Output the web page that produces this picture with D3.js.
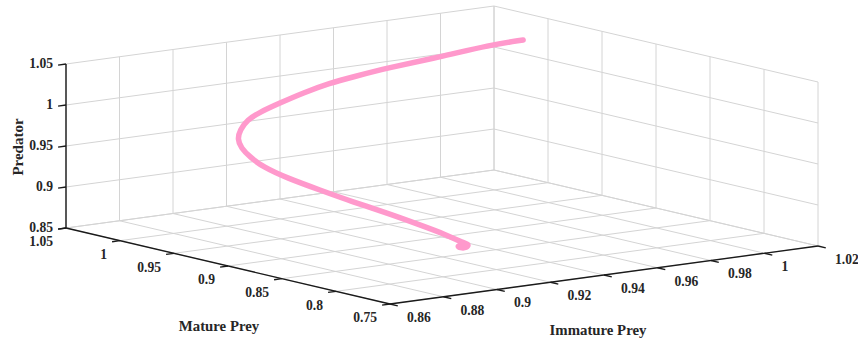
<!DOCTYPE html>
<html><head><meta charset="utf-8">
<script src="https://cdn.jsdelivr.net/npm/d3@7"></script>
<style>
body{margin:0;background:#fff}
svg{display:block}
text{font-family:"Liberation Serif","Times New Roman",serif;font-weight:bold;fill:#262626}
</style>
</head><body>
<svg id="c" width="858" height="344"></svg>
<script>
// ---- data ----
const matureTicks = [1.05, 1, 0.95, 0.9, 0.85, 0.8, 0.75];
const immatureTicks = [0.86, 0.88, 0.9, 0.92, 0.94, 0.96, 0.98, 1, 1.02];
const predatorTicks = [0.85, 0.9, 0.95, 1, 1.05];
const mature   = [1.0000,0.9893,0.9730,0.9557,0.9445,0.9369,0.9277,0.9197,0.9127,0.9078,0.9039,0.9007,0.8976,0.8935,0.8883,0.8799,0.8687,0.8575,0.8461,0.8349,0.8257,0.8200,0.8180,0.8180,0.8180,0.8180,0.8180];
const immature = [1.0107,0.9940,0.9687,0.9419,0.9247,0.9130,0.8992,0.8874,0.8771,0.8703,0.8661,0.8638,0.8639,0.8656,0.8684,0.8739,0.8817,0.8896,0.8977,0.9055,0.9119,0.9156,0.9170,0.9162,0.9136,0.9125,0.9144];
const predator = [1.0281,1.0327,1.0343,1.0380,1.0382,1.0383,1.0351,1.0306,1.0263,1.0211,1.0120,1.0030,0.9929,0.9824,0.9706,0.9574,0.9427,0.9281,0.9146,0.9000,0.8878,0.8782,0.8770,0.8724,0.8736,0.8765,0.8769];

// ---- projection (oblique 3D view built from linear scales) ----
const sM = d3.scaleLinear().domain([1.05, 0.75]).range([0, 1]);
const sI = d3.scaleLinear().domain([0.86, 1.02]).range([0, 1]);
const sZ = d3.scaleLinear().domain([0.85, 1.05]).range([0, 1]);
const O = [66, 228], VM = [324, 76], VI = [428, -58], VZ = [0, -164];
function P(m, i, z) {
  const a = sM(m), b = sI(i), c = sZ(z);
  return [O[0] + a*VM[0] + b*VI[0] + c*VZ[0], O[1] + a*VM[1] + b*VI[1] + c*VZ[1]];
}
const [m0, m1] = sM.domain(), [i0, i1] = sI.domain(), [z0, z1] = sZ.domain();

const svg = d3.select("#c");
const grid = svg.append("g").attr("stroke", "#d4d4d4").attr("stroke-width", 1).attr("fill", "none");
function seg(g, p, q) { g.append("line").attr("x1", p[0]).attr("y1", p[1]).attr("x2", q[0]).attr("y2", q[1]); }

immatureTicks.forEach(i => { seg(grid, P(m0, i, z0), P(m0, i, z1)); seg(grid, P(m0, i, z0), P(m1, i, z0)); });
matureTicks.forEach(m => { seg(grid, P(m, i1, z0), P(m, i1, z1)); seg(grid, P(m, i0, z0), P(m, i1, z0)); });
predatorTicks.forEach(z => { seg(grid, P(m0, i0, z), P(m0, i1, z)); seg(grid, P(m0, i1, z), P(m1, i1, z)); });

// axes
const ax = svg.append("g").attr("stroke", "#1a1a1a").attr("stroke-width", 1.4).attr("fill", "none");
seg(ax, P(m0, i0, z0), P(m0, i0, z1));
seg(ax, P(m0, i0, z0), P(m1, i0, z0));
seg(ax, P(m1, i0, z0), P(m1, i1, z0));

const dI = [-0.991, 0.134], dM = [0.973, 0.228], TL = 8;
const fmt = d => String(+d.toFixed(2));
const FS = 13.6;
predatorTicks.forEach(z => {
  const p = P(m0, i0, z);
  seg(ax, p, [p[0] + TL*dI[0], p[1] + TL*dI[1]]);
  svg.append("text").attr("x", p[0] - 13).attr("y", p[1] - 0.5).attr("dy", "0.35em")
    .attr("text-anchor", "end").attr("font-size", FS).text(fmt(z));
});
matureTicks.forEach(m => {
  const p = P(m, i0, z0);
  seg(ax, p, [p[0] + TL*dI[0], p[1] + TL*dI[1]]);
  svg.append("text").attr("x", p[0] - 13).attr("y", p[1] + 13.5).attr("dy", "0.35em")
    .attr("text-anchor", "end").attr("font-size", FS).text(fmt(m));
});
immatureTicks.forEach(i => {
  const p = P(m1, i, z0);
  seg(ax, p, [p[0] + TL*dM[0], p[1] + TL*dM[1]]);
  svg.append("text").attr("x", p[0] + 17).attr("y", p[1] + 13).attr("dy", "0.35em")
    .attr("text-anchor", "start").attr("font-size", FS).text(fmt(i));
});

// axis titles
svg.append("text").attr("transform", "translate(23,147) rotate(-90)").attr("text-anchor", "middle")
  .attr("font-size", 15).text("Predator");
svg.append("text").attr("x", 219).attr("y", 331).attr("text-anchor", "middle").attr("font-size", 14.8).text("Mature Prey");
svg.append("text").attr("x", 598).attr("y", 335).attr("text-anchor", "middle").attr("font-size", 14.8).text("Immature Prey");

// trajectory
const pts = mature.map((m, k) => P(m, immature[k], predator[k]));
svg.append("path").attr("d", d3.line().curve(d3.curveBasis)(pts))
  .attr("fill", "none").attr("stroke", "#ff99cc").attr("stroke-width", 5.5)
  .attr("stroke-linecap", "round").attr("stroke-linejoin", "round");
</script>
</body></html>
